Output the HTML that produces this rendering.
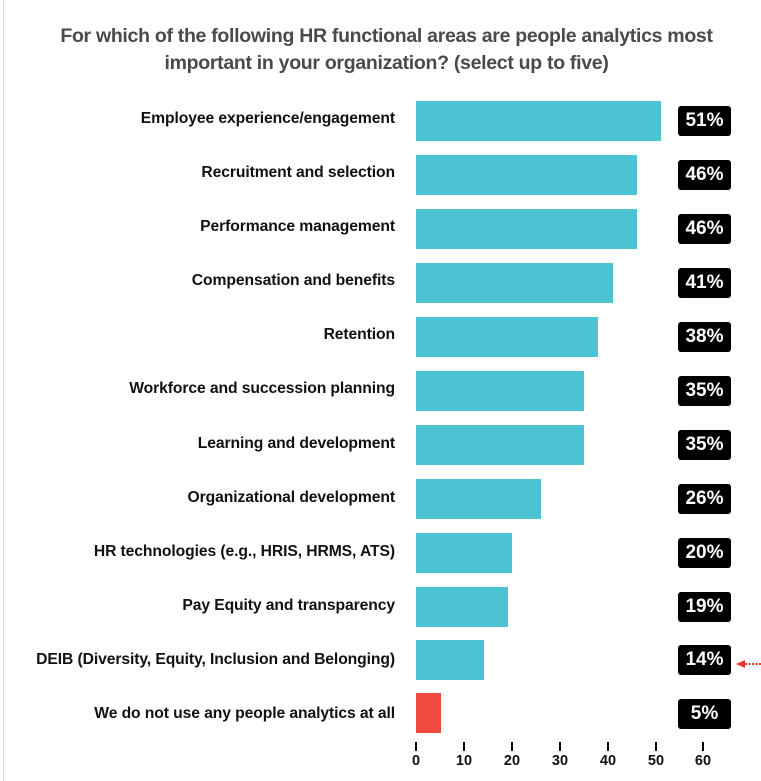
<!DOCTYPE html><html><head><meta charset="utf-8"><style>
body{margin:0;width:761px;height:781px;background:#fff;font-family:"Liberation Sans",sans-serif;position:relative;overflow:hidden}
.t{position:absolute;left:0;width:773px;text-align:center;font-size:19.5px;font-weight:bold;color:#4a4a4a;letter-spacing:-0.3px}
.l{position:absolute;right:366px;font-size:15.7px;font-weight:bold;color:#111;white-space:nowrap;letter-spacing:-0.1px}
.b{position:absolute;left:416px;height:40px;background:#4bc3d3}
.p{position:absolute;left:678px;width:53px;height:30px;background:#000;border-radius:3px;color:#fff;font-weight:bold;font-size:19px;text-align:center;line-height:30px}
.k{position:absolute;top:742px;width:2px;height:9px;background:#000}
.n{position:absolute;top:753px;width:30px;text-align:center;font-size:14.5px;font-weight:bold;color:#111}
</style></head><body>
<div style="position:absolute;left:3px;top:0;width:1px;height:781px;background:#ddd"></div>
<div class="t" style="top:25px">For which of the following HR functional areas are people analytics most</div>
<div class="t" style="top:52px">important in your organization? (select up to five)</div>
<div class="l" style="top:110px">Employee experience/engagement</div><div class="b" style="top:101px;width:245px"></div><div class="p" style="top:106px">51%</div>
<div class="l" style="top:164px">Recruitment and selection</div><div class="b" style="top:155px;width:221px"></div><div class="p" style="top:160px">46%</div>
<div class="l" style="top:218px">Performance management</div><div class="b" style="top:209px;width:221px"></div><div class="p" style="top:214px">46%</div>
<div class="l" style="top:272px">Compensation and benefits</div><div class="b" style="top:263px;width:197px"></div><div class="p" style="top:268px">41%</div>
<div class="l" style="top:326px">Retention</div><div class="b" style="top:317px;width:182px"></div><div class="p" style="top:322px">38%</div>
<div class="l" style="top:380px">Workforce and succession planning</div><div class="b" style="top:371px;width:168px"></div><div class="p" style="top:376px">35%</div>
<div class="l" style="top:435px">Learning and development</div><div class="b" style="top:425px;width:168px"></div><div class="p" style="top:430px">35%</div>
<div class="l" style="top:489px">Organizational development</div><div class="b" style="top:479px;width:125px"></div><div class="p" style="top:484px">26%</div>
<div class="l" style="top:543px">HR technologies (e.g., HRIS, HRMS, ATS)</div><div class="b" style="top:533px;width:96px"></div><div class="p" style="top:538px">20%</div>
<div class="l" style="top:597px">Pay Equity and transparency</div><div class="b" style="top:587px;width:92px"></div><div class="p" style="top:592px">19%</div>
<div class="l" style="top:651px">DEIB (Diversity, Equity, Inclusion and Belonging)</div><div class="b" style="top:640px;width:68px"></div><div class="p" style="top:645px">14%</div>
<div class="l" style="top:705px">We do not use any people analytics at all</div><div class="b" style="top:693px;width:25px;background:#f04b3f"></div><div class="p" style="top:699px">5%</div>
<svg style="position:absolute;left:736px;top:657px" width="25" height="14"><polygon points="0,7 9,3 9,11" fill="#e8392e"/><line x1="9" y1="7" x2="25" y2="7" stroke="#e8392e" stroke-width="2" stroke-dasharray="2,1.5"/></svg>
<div class="k" style="left:415px"></div><div class="k" style="left:463px"></div><div class="k" style="left:511px"></div><div class="k" style="left:559px"></div><div class="k" style="left:607px"></div><div class="k" style="left:655px"></div><div class="k" style="left:702px"></div>
<div class="n" style="left:401px">0</div><div class="n" style="left:449px">10</div><div class="n" style="left:497px">20</div><div class="n" style="left:545px">30</div><div class="n" style="left:593px">40</div><div class="n" style="left:641px">50</div><div class="n" style="left:688px">60</div>
</body></html>
